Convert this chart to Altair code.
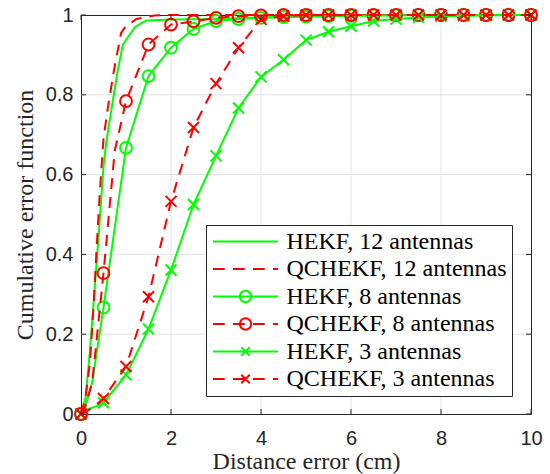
import altair as alt
import pandas as pd

# ---------------- data ----------------
x_ticks = [0, 2, 4, 6, 8, 10]
y_ticks = [0, 0.2, 0.4, 0.6, 0.8, 1]
x_grid = [2, 4, 6, 8]
y_grid = [0.2, 0.4, 0.6, 0.8]

names = ["HEKF, 12 antennas", "QCHEKF, 12 antennas", "HEKF, 8 antennas",
         "QCHEKF, 8 antennas", "HEKF, 3 antennas", "QCHEKF, 3 antennas"]
colors = ["#00FF00", "#FF0000", "#00FF00", "#FF0000", "#00FF00", "#FF0000"]

marker_x = [0, 0.5, 1, 1.5, 2, 2.5, 3, 3.5, 4, 4.5, 5, 5.5, 6, 6.5, 7, 7.5, 8, 8.5, 9, 9.5, 10]

hekf8_m = [0, 0.267, 0.667, 0.847, 0.918, 0.965, 0.985, 0.99, 0.993, 0.995, 0.996,
           0.997, 0.998, 0.999, 0.999, 1, 1, 1, 1, 1, 1]
qchekf8_m = [0, 0.353, 0.784, 0.926, 0.976, 0.984, 0.993, 0.997, 0.999, 1, 1,
             1, 1, 1, 1, 1, 1, 1, 1, 1, 1]
hekf3_m = [0, 0.028, 0.098, 0.213, 0.361, 0.525, 0.647, 0.767, 0.845, 0.888, 0.937,
           0.958, 0.972, 0.985, 0.99, 0.994, 0.997, 0.998, 0.999, 1, 1]
qchekf3_m = [0, 0.039, 0.119, 0.294, 0.533, 0.718, 0.828, 0.918, 0.989, 0.997, 1,
             1, 1, 1, 1, 1, 1, 1, 1, 1, 1]

# finer line traces
hekf12_x = [0, 0.1, 0.2, 0.3, 0.4, 0.5, 0.56, 0.7, 0.8, 0.93, 1.2, 1.45, 2, 3, 4, 5, 6, 7, 8, 9, 10]
hekf12_y = [0, 0.04, 0.16, 0.31, 0.46, 0.62, 0.68, 0.78, 0.85, 0.926, 0.97, 0.986, 0.989,
            0.99, 0.994, 0.997, 0.999, 1, 1, 1, 1]
qchekf12_x = [0, 0.1, 0.2, 0.28, 0.34, 0.42, 0.5, 0.6, 0.73, 0.89, 1.0, 1.23, 1.63, 2, 10]
qchekf12_y = [0, 0.04, 0.13, 0.27, 0.40, 0.56, 0.69, 0.77, 0.86, 0.955, 0.972, 0.99, 0.999, 1, 1]

hekf8_lx = [0, 0.1, 0.25] + marker_x[1:]
hekf8_ly = [0, 0.02, 0.08] + hekf8_m[1:]
qchekf8_lx = [0, 0.1, 0.25, 0.5, 0.75] + marker_x[2:]
qchekf8_ly = [0, 0.02, 0.08, 0.353, 0.66] + qchekf8_m[2:]
hekf3_lx = [0, 0.15, 0.3] + marker_x[1:]
hekf3_ly = [0, 0.012, 0.018] + hekf3_m[1:]
qchekf3_lx = [0, 0.25] + marker_x[1:]
qchekf3_ly = [0, 0.015] + qchekf3_m[1:]

# ---------------- styling ----------------
W, H = 450, 399
AX = "#262626"
GREEN, RED = "#00FF00", "#FF0000"
DASH = [11, 8]
XMARK = "M-1,-1L1,1M-1,1L1,-1"
SERIF = "Liberation Serif"
SANS = "Liberation Sans"

xscale = alt.Scale(domain=[0, 10], nice=False, zero=False)
yscale = alt.Scale(domain=[0, 1], nice=False, zero=False)
xaxis = alt.Axis(values=x_ticks, format="d", title="Distance error (cm)", grid=False,
                 ticks=False, domain=False, labelFont=SANS, labelFontSize=20,
                 labelColor=AX, labelPadding=14, labelFlush=False, labelOverlap=False,
                 titleFont=SERIF, titleFontSize=24, titleFontWeight="normal",
                 titleColor=AX, titlePadding=1)
yaxis = alt.Axis(values=y_ticks, format="~r", title="Cumulative error function", grid=False,
                 ticks=False, domain=False, labelFont=SANS, labelFontSize=20,
                 labelColor=AX, labelPadding=8, labelFlush=False, labelOverlap=False,
                 titleFont=SERIF, titleFontSize=24, titleFontWeight="normal",
                 titleColor=AX, titlePadding=8)


def X(f):
    return alt.X(f, scale=xscale, axis=xaxis)


def Y(f):
    return alt.Y(f, scale=yscale, axis=yaxis)


def line(xs, ys, color, dashed):
    df = pd.DataFrame({"x": xs, "y": ys})
    kw = dict(color=color, strokeWidth=2)
    if dashed:
        kw["strokeDash"] = DASH
    return alt.Chart(df).mark_line(**kw).encode(x=X("x:Q"), y=Y("y:Q"))


def points(ys, color, shape, size):
    df = pd.DataFrame({"x": marker_x, "y": ys})
    return alt.Chart(df).mark_point(shape=shape, filled=False, size=size, strokeWidth=2,
                                    opacity=1, color=color).encode(x=X("x:Q"), y=Y("y:Q"))


# grid
gx = alt.Chart(pd.DataFrame({"v": x_grid})).mark_rule(color="#E2E2E2", strokeWidth=1).encode(x=X("v:Q"))
gy = alt.Chart(pd.DataFrame({"v": y_grid})).mark_rule(color="#E2E2E2", strokeWidth=1).encode(y=Y("v:Q"))

# inward ticks
tx = pd.DataFrame({"v": x_ticks})
ty = pd.DataFrame({"v": y_ticks})
tick_b = alt.Chart(tx).mark_rule(color=AX, strokeWidth=1).encode(x=X("v:Q"), y=alt.value(H), y2=alt.value(H - 5))
tick_t = alt.Chart(tx).mark_rule(color=AX, strokeWidth=1).encode(x=X("v:Q"), y=alt.value(0), y2=alt.value(5))
tick_l = alt.Chart(ty).mark_rule(color=AX, strokeWidth=1).encode(y=Y("v:Q"), x=alt.value(0), x2=alt.value(5))
tick_r = alt.Chart(ty).mark_rule(color=AX, strokeWidth=1).encode(y=Y("v:Q"), x=alt.value(W - 5), x2=alt.value(W))

# legend symbols (unit path: width 2 -> sqrt(symbolSize))
solid = "M-1,0H1"
dash = "M-1,0H-0.64M-0.385,0H-0.025M0.23,0H0.59M0.845,0H1"
circ = "M0.175,0A0.175,0.175 0 1,1 -0.175,0A0.175,0.175 0 1,1 0.175,0Z"
xm = "M-0.13,-0.13L0.13,0.13M-0.13,0.13L0.13,-0.13"
legend_paths = [solid, dash, solid + circ, dash + circ, solid + xm, dash + xm]

leg = alt.Legend(title=None, orient="none", legendX=125, legendY=210, clipHeight=24,
                 symbolSize=4225, symbolStrokeWidth=2, labelFont=SERIF,
                 labelFontSize=24, labelColor="black", labelOffset=7.5, rowPadding=3.5,
                 padding=4.5, symbolOffset=1.5, strokeColor=AX, fillColor="white",
                 labelLimit=400)

legend_layer = alt.Chart(pd.DataFrame({"series": names})).transform_filter("false").mark_point(
    filled=False, opacity=1, strokeWidth=2).encode(
    color=alt.Color("series:N", scale=alt.Scale(domain=names, range=colors), legend=leg),
    shape=alt.Shape("series:N", scale=alt.Scale(domain=names, range=legend_paths), legend=leg),
)

chart = alt.layer(
    gx, gy,
    line(hekf12_x, hekf12_y, GREEN, False),
    line(qchekf12_x, qchekf12_y, RED, True),
    line(hekf8_lx, hekf8_ly, GREEN, False),
    points(hekf8_m, GREEN, "circle", 140),
    line(qchekf8_lx, qchekf8_ly, RED, True),
    points(qchekf8_m, RED, "circle", 140),
    line(hekf3_lx, hekf3_ly, GREEN, False),
    points(hekf3_m, GREEN, XMARK, 121),
    line(qchekf3_lx, qchekf3_ly, RED, True),
    points(qchekf3_m, RED, XMARK, 121),
    tick_b, tick_t, tick_l, tick_r,
    legend_layer,
).properties(
    width=W, height=H,
    autosize=alt.AutoSizeParams(type="none"),
    padding={"left": 81, "top": 15, "right": 19, "bottom": 60},
    background="white",
).configure_view(stroke=AX, strokeWidth=1)

chart.save("out.html", embed_options={"renderer": "svg", "actions": False})
